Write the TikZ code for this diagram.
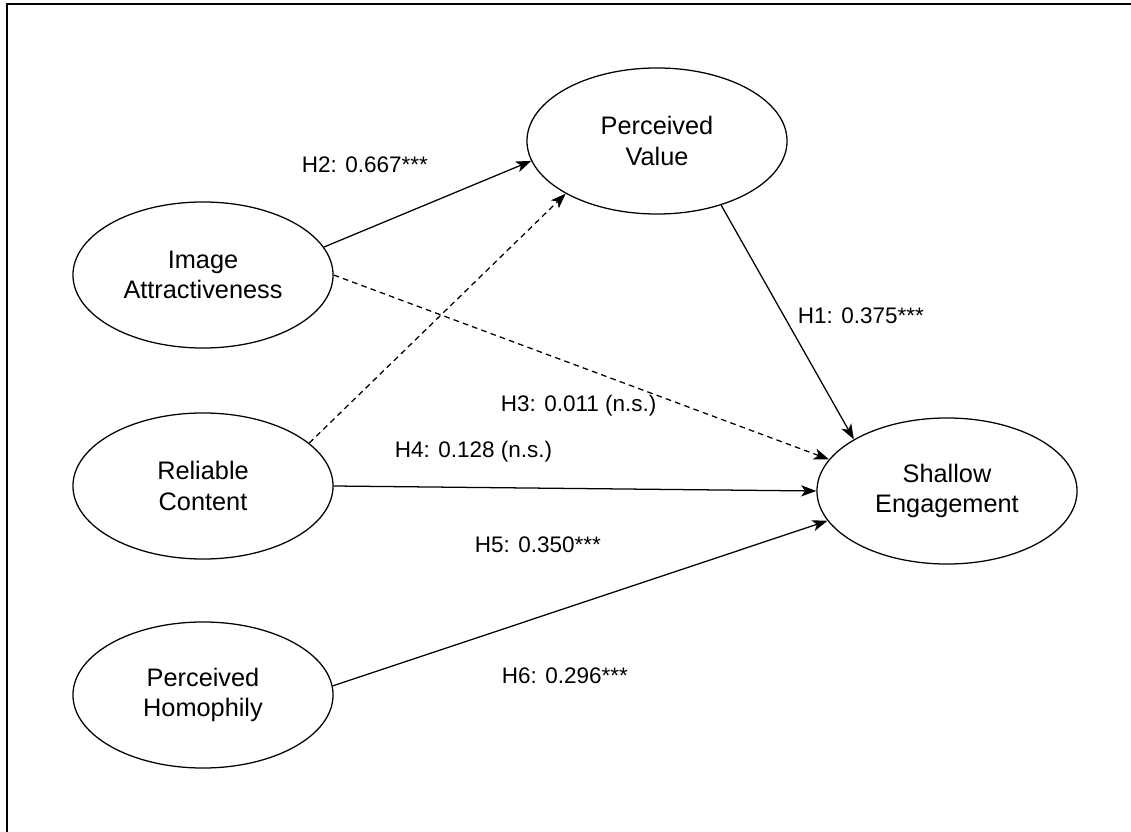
\documentclass[tikz,border=0pt]{standalone}
\usepackage{fontspec}
\setmainfont{Liberation Sans}
\usetikzlibrary{arrows.meta, shapes.geometric, positioning}

\tikzset{
    construct/.style={ellipse, draw, line width=0.9pt, minimum width=6.5cm,
        minimum height=3.65cm, align=center, font=\fontsize{18}{21.5}\selectfont},
    link/.style={-{Stealth[length=3.8mm, width=2.8mm, inset=1mm]}, line width=0.9pt},
    nslink/.style={link, dash pattern=on 4pt off 3pt},
    coef/.style={anchor=west, font=\fontsize{16}{19}\selectfont}
}

\begin{document}
\begin{tikzpicture}[x=0.025cm, y=-0.025cm]
        \useasboundingbox (0,0) rectangle (1131,832);
        \draw[line width=1.5pt] (7,832) -- (7,4) -- (1131,4);

        % constructs
        \node[construct] (pv) at (657,141) {Perceived\\Value};
        \node[construct] (ia) at (203,275) {Image\\Attractiveness};
        \node[construct] (rc) at (203,486) {Reliable\\Content};
        \node[construct] (ph) at (203,695) {Perceived\\Homophily};
        \node[construct] (se) at (947,491) {Shallow\\Engagement};

        % paths
        \draw[link] (ia.13) -- (pv.189);
        \draw[nslink] (rc.22) -- (pv.210);
        \draw[nslink] (ia.east) -- (se.165);
        \draw[link] (pv.-45) -- (se.151);
        \draw[link] (rc.east) -- (se.west);
        \draw[link] (ph.4) -- (se.194);

        % coefficients
        \node[coef] (h2) at (297,165) {H2: 0.667***};
        \node[coef] (h1) at (793,316) {H1: 0.375***};
        \node[coef] (h3) at (496,406) {H3: 0.011 (n.s.)};
        \node[coef] (h4) at (390,452) {H4: 0.128 (n.s.)};
        \node[coef] (h5) at (470,545) {H5: 0.350***};
        \node[coef] (h6) at (497,676) {H6: 0.296***};
    \end{tikzpicture}
\end{document}
